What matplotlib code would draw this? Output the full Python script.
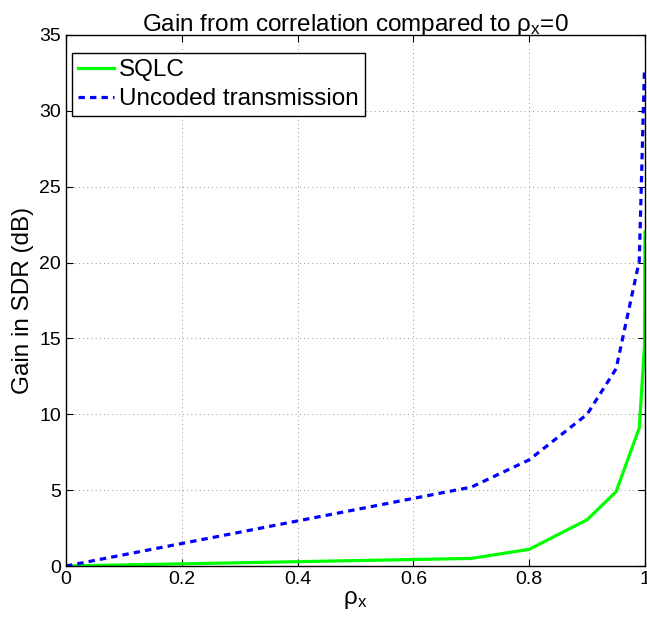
import matplotlib
matplotlib.use("Agg")
import matplotlib.pyplot as plt

plt.rcParams['font.family'] = ['Liberation Sans', 'DejaVu Sans']
plt.rcParams['mathtext.fontset'] = 'custom'
plt.rcParams['mathtext.rm'] = 'Liberation Sans'
plt.rcParams['mathtext.it'] = 'Liberation Sans:italic'

# correlation values and gains (dB)
rho_sqlc = [0, 0.7, 0.8, 0.9, 0.95, 0.99, 0.999, 0.9999]
gain_sqlc = [0, 0.5, 1.1, 3.05, 4.9, 9.1, 14.5, 22.0]

rho_unc = [0, 0.7, 0.8, 0.9, 0.95, 0.99, 0.999]
gain_unc = [0, 5.2, 7.0, 10.0, 13.0, 20.1, 32.8]

x_ticks = [0, 0.2, 0.4, 0.6, 0.8, 1]
y_ticks = [0, 5, 10, 15, 20, 25, 30, 35]

fig = plt.figure(figsize=(6.47, 6.19), dpi=100)
ax = fig.add_axes([0.102, 0.0856, 0.895, 0.858])

ax.plot(rho_sqlc, gain_sqlc, color=(0, 1, 0), linewidth=2.3, label='SQLC')
ax.plot(rho_unc, gain_unc, color=(0, 0, 1), linewidth=2.3, linestyle=(0, (2, 1.6)),
        label='Uncoded transmission')

ax.set_xlim(0, 1)
ax.set_ylim(0, 35)
ax.set_xticks(x_ticks)
ax.set_xticklabels(['0', '0.2', '0.4', '0.6', '0.8', '1'])
ax.set_yticks(y_ticks)
ax.tick_params(direction='in', top=True, right=True, labelsize=14, length=5, width=0.8)
ax.grid(True, linestyle=(0, (1, 4)), color='0.45', linewidth=0.6)
for s in ax.spines.values():
    s.set_linewidth(1.0)

ax.set_xlabel(r'$\mathregular{\rho_x}$', fontsize=17.5, labelpad=1)
ax.set_ylabel('Gain in SDR (dB)', fontsize=17.5, labelpad=4)
ax.set_title(r'Gain from correlation compared to $\mathregular{\rho_x}$=0', fontsize=17.5, pad=3)

leg = ax.legend(loc='upper left', bbox_to_anchor=(0.01, 0.966), fontsize=17.5,
                handlelength=1.5, handletextpad=0.2, borderpad=0.25, labelspacing=0.3,
                borderaxespad=0, fancybox=False, framealpha=1)
leg.get_frame().set_edgecolor('black')
leg.get_frame().set_linewidth(1.0)

fig.savefig('out.png', dpi=100)
